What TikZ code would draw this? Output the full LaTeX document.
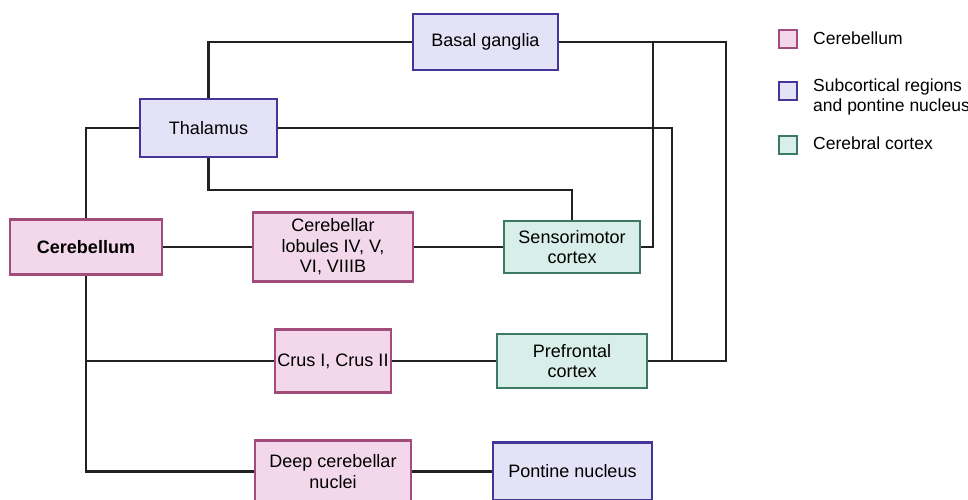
\documentclass[tikz,border=0pt]{standalone}
\usepackage{fontspec}
\setmainfont{Liberation Sans}
\definecolor{pinkfill}{HTML}{F2D8EA}
\definecolor{pinkdraw}{HTML}{A24C7C}
\definecolor{lavfill}{HTML}{E4E2F7}
\definecolor{lavdraw}{HTML}{443599}
\definecolor{mintfill}{HTML}{D8EEE8}
\definecolor{mintdraw}{HTML}{3C7866}
\definecolor{linec}{HTML}{222222}
\tikzset{
  box/.style={draw, line width=2.6pt, align=center, inner sep=2pt,
    font=\fontsize{18}{20.5}\selectfont},
  cbox/.style={box, fill=pinkfill, draw=pinkdraw},
  sbox/.style={box, fill=lavfill, draw=lavdraw},
  kbox/.style={box, fill=mintfill, draw=mintdraw},
  conn/.style={draw=linec, line width=2.6pt, line join=miter},
  legsq/.style={draw, line width=2.6pt, minimum width=18pt, minimum height=18pt, inner sep=0pt},
  legtxt/.style={anchor=west, align=left, inner sep=0pt, font=\fontsize{17.5}{20}\selectfont}
}
\begin{document}
\begin{tikzpicture}[x=1pt,y=-1pt]
\useasboundingbox (0,0) rectangle (968,500);
\node[cbox, minimum width=152pt, minimum height=55pt] (cereb) at (86,247) {\textbf{Cerebellum}};
\node[sbox, minimum width=137pt, minimum height=58pt] (thal) at (208.5,128) {Thalamus};
\node[sbox, minimum width=145pt, minimum height=56pt] (basal) at (485.5,42) {Basal ganglia};
\node[cbox, minimum width=160pt, minimum height=69pt] (lob) at (333,247) {Cerebellar\\lobules IV, V,\\VI, VIIIB};
\node[kbox, minimum width=136pt, minimum height=52pt] (sens) at (572,247) {Sensorimotor\\cortex};
\node[cbox, minimum width=116pt, minimum height=63pt] (crus) at (333,361) {Crus I, Crus II};
\node[kbox, minimum width=150pt, minimum height=54pt] (pref) at (572,361) {Prefrontal\\cortex};
\node[cbox, minimum width=156pt, minimum height=62pt] (deep) at (333,471.5) {Deep cerebellar\\nuclei};
\node[sbox, minimum width=159pt, minimum height=58pt] (pont) at (572.5,471.5) {Pontine nucleus};

\coordinate (tj) at (208.5,190);
\coordinate (r1) at (726,42);
\coordinate (r2) at (653,42);
\coordinate (r3) at (672,128);

\draw[conn] (cereb.north) |- (thal.west);
\draw[conn] (thal.north) |- (basal.west);
\draw[conn] (thal.south) -- (tj) -| (sens.north);
\draw[conn] (cereb.east) -- (lob.west);
\draw[conn] (lob.east) -- (sens.west);
\draw[conn] (cereb.south) |- (deep.west);
\draw[conn] (cereb.south |- crus.west) -- (crus.west);
\draw[conn] (crus.east) -- (pref.west);
\draw[conn] (deep.east) -- (pont.west);
\draw[conn] (basal.east) -- (r1) |- (pref.east);
\draw[conn] (r2) |- (sens.east);
\draw[conn] (thal.east) -- (r3) |- (pref.east);

% legend
\node[legsq, fill=pinkfill, draw=pinkdraw] (l1) at (788,39) {};
\node[legsq, fill=lavfill, draw=lavdraw] (l2) at (788,91) {};
\node[legsq, fill=mintfill, draw=mintdraw] (l3) at (788,145) {};
\node[legtxt] (t1) at (813,38) {Cerebellum};
\node[legtxt] (t2) at (813,97) {Subcortical regions\\and pontine nucleus};
\node[legtxt] (t3) at (813,143) {Cerebral cortex};
\end{tikzpicture}
\end{document}
